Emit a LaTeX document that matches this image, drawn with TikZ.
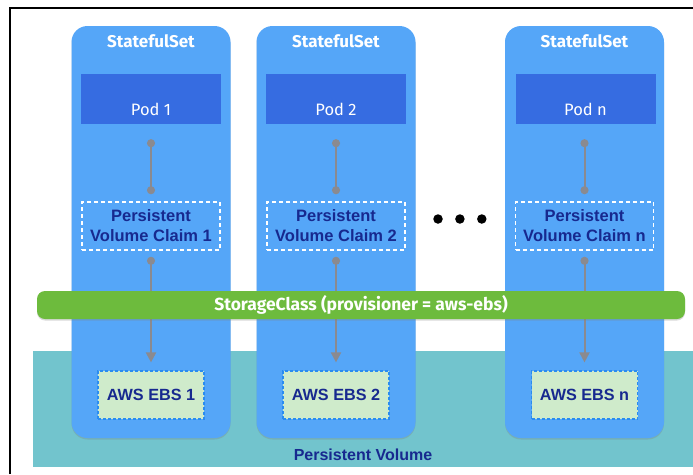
\documentclass[tikz,border=0pt]{standalone}
\usepackage{fontspec}
\setmainfont{Liberation Sans}
\newfontfamily\firafont{Fira Sans}
\usetikzlibrary{positioning, arrows.meta, shadows}

\definecolor{setBlue}{HTML}{55A6F8}
\definecolor{podBlue}{HTML}{366CE1}
\definecolor{navyText}{HTML}{17298F}
\definecolor{scGreen}{HTML}{6DBB3D}
\definecolor{pvTeal}{HTML}{72C4CD}
\definecolor{ebsFill}{HTML}{CFEBCB}
\definecolor{ebsEdge}{HTML}{2A8CF0}
\definecolor{linkGray}{HTML}{8A8A90}

\begin{document}
\begin{tikzpicture}[
  x=1pt, y=-1pt,
  pvLayer/.style    ={rectangle, fill=pvTeal, minimum width=660pt, minimum height=116pt, inner sep=0pt},
  pvText/.style     ={font=\fontsize{16}{18}\selectfont\bfseries, text=navyText},
  setNode/.style    ={rectangle, rounded corners=16pt, fill=setBlue, minimum width=159pt, minimum height=412pt, inner sep=0pt,
                      drop shadow={shadow xshift=0pt, shadow yshift=-1.5pt, opacity=0.3}},
  setTitle/.style   ={font=\firafont\fontsize{17}{18}\selectfont\bfseries, text=white},
  podNode/.style    ={rectangle, fill=podBlue, minimum width=140pt, minimum height=50pt, inner sep=0pt,
                      text height=33pt, text depth=0pt, font=\firafont\fontsize{16.5}{18}\selectfont, text=white},
  claimNode/.style  ={rectangle, draw=white, line width=1.6pt, dash pattern=on 4pt off 3pt, minimum width=138pt, minimum height=48pt,
                      inner sep=0pt, align=center, font=\fontsize{16.5}{20}\selectfont\bfseries, text=navyText},
  ebsNode/.style    ={rectangle, fill=ebsFill, draw=ebsEdge, line width=1.2pt, dash pattern=on 3pt off 2pt, minimum width=106pt,
                      minimum height=48pt, inner sep=0pt, font=\fontsize{16.2}{18}\selectfont\bfseries, text=navyText},
  scNode/.style     ={rectangle, rounded corners=8pt, fill=scGreen, minimum width=648pt, minimum height=28pt, inner sep=0pt,
                      font=\firafont\fontsize{17.5}{18}\selectfont\bfseries, text=white,
                      drop shadow={shadow xshift=0pt, shadow yshift=-1.5pt, opacity=0.3}},
  dotLink/.style    ={{Circle[length=8pt]}-{Circle[length=8pt]}, linkGray, line width=2pt},
  arrowLink/.style  ={{Circle[length=8pt]}-{Triangle[width=10pt, length=10pt]}, linkGray, line width=2pt},
  moreDot/.style    ={circle, fill=black, minimum size=9.5pt, inner sep=0pt}
]
\useasboundingbox (0,0) rectangle (693,474);

% frame
\draw[line width=2.2pt] (10,474) -- (10,8) -- (693,8);

% ================== PERSISTENT VOLUME ==================
\node[pvLayer] (PV) at (363,409) {};
\node[pvText] (PVlabel) at (363,455) {Persistent Volume};

% ================== STATEFULSETS ==================
\node[setNode] (Set1) at (151,232) {};
\node[setNode] (Set2) at (336,232) {};
\node[setNode] (SetN) at (584.5,232) {};

\node[setTitle] at (151,41)   {StatefulSet};
\node[setTitle] at (336,41)   {StatefulSet};
\node[setTitle] at (584.5,41) {StatefulSet};

% pods
\node[podNode] (Pod1) at (151,99)   {Pod 1};
\node[podNode] (Pod2) at (336,99)   {Pod 2};
\node[podNode] (PodN) at (585.5,99) {Pod n};

% claims
\node[claimNode] (PVC1) at (151,226)   {Persistent\\Volume Claim 1};
\node[claimNode] (PVC2) at (336,226)   {Persistent\\Volume Claim 2};
\node[claimNode] (PVCN) at (584.5,226) {Persistent\\Volume Claim n};

% volumes
\node[ebsNode] (EBS1) at (151,395)   {AWS EBS 1};
\node[ebsNode] (EBS2) at (336,395)   {AWS EBS 2};
\node[ebsNode] (EBSN) at (584.5,395) {AWS EBS n};

% more sets
\node[moreDot] (MoreA) at (438,219) {};
\node[moreDot, right=12pt of MoreA] (MoreB) {};
\node[moreDot, right=12pt of MoreB] (MoreC) {};

% pod -> claim
\draw[dotLink, shorten <=15pt, shorten >=7pt] (Pod1.south) -- (PVC1.north);
\draw[dotLink, shorten <=15pt, shorten >=7pt] (Pod2.south) -- (PVC2.north);
\draw[dotLink, shorten <=15pt, shorten >=7pt] (PVCN.north |- PodN.south) -- (PVCN.north);

% claim -> volume
\draw[arrowLink, shorten <=6pt, shorten >=8pt] (PVC1.south) -- (EBS1.north);
\draw[arrowLink, shorten <=6pt, shorten >=8pt] (PVC2.south) -- (EBS2.north);
\draw[arrowLink, shorten <=6pt, shorten >=8pt] (PVCN.south) -- (EBSN.north);

% ================== STORAGE CLASS ==================
\node[scNode] (SC) at (361,305) {StorageClass (provisioner = aws-ebs)};

\end{tikzpicture}
\end{document}
